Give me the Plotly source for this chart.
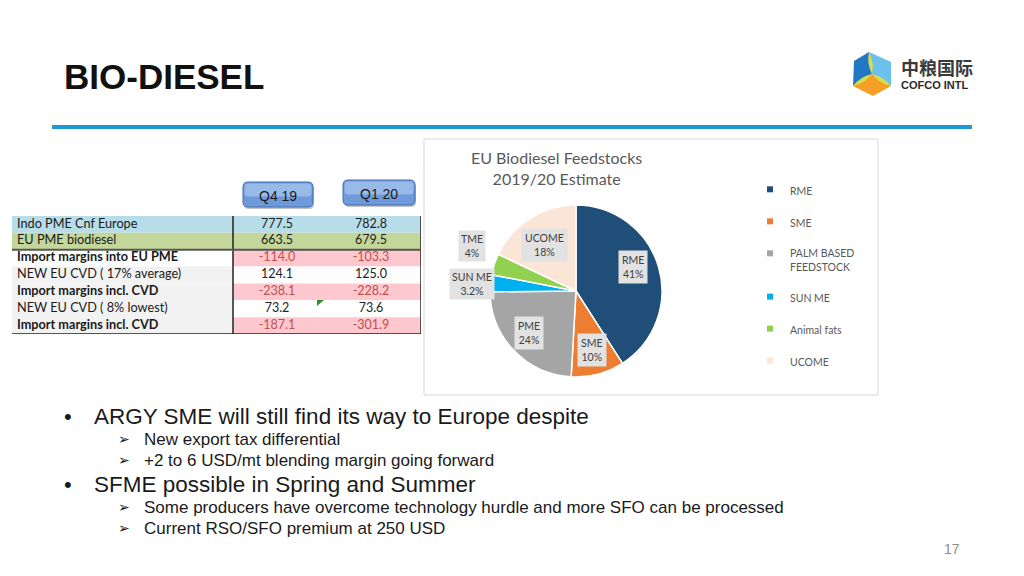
import math
import plotly.graph_objects as go

# the page body has an 8px margin, so the figure is drawn 8px in from the window corner
OFF = 8
W, H = 1024 - 2 * OFF, 576 - 2 * OFF

# ---- data ----
row_labels = ["Indo PME Cnf Europe", "EU PME biodiesel", "Import margins into EU PME",
              "NEW EU CVD ( 17% average)", "Import margins incl. CVD",
              "NEW EU CVD ( 8% lowest)", "Import margins incl. CVD"]
q4_19 = [777.5, 663.5, -114.0, 124.1, -238.1, 73.2, -187.1]
q1_20 = [782.8, 679.5, -103.3, 125.0, -228.2, 73.6, -301.9]
col_heads = ["Q4 19", "Q1 20"]
bold_rows = [2, 4, 6]

feed_names = ["RME", "SME", "PALM BASED<br>FEEDSTOCK", "SUN ME", "Animal fats", "UCOME"]
feed_short = ["RME", "SME", "PME", "SUN ME", "TME", "UCOME"]
feed_share = [41, 10, 24, 3.2, 4, 18]
feed_text = ["41%", "10%", "24%", "3.2%", "4%", "18%"]
feed_colors = ["#1F4E79", "#ED7D31", "#A5A5A5", "#00B0F0", "#92D050", "#FBE5D6"]

bullets = [
    (0, "ARGY SME will still find its way to Europe despite"),
    (1, "New export tax differential"),
    (1, "+2 to 6 USD/mt blending margin going forward"),
    (0, "SFME possible in Spring and Summer"),
    (1, "Some producers have overcome technology hurdle and more SFO can be processed"),
    (1, "Current RSO/SFO premium at 250 USD"),
]

# label placement (radius factor, angle nudge in degrees) per slice
label_pos = [(0.72, -6), (0.71, 0), (0.73, 2), (1.21, -1.5), (1.32, 5), (0.65, -2)]


def px(x):
    return (x - OFF) / W


def py(y):
    return 1 - (y - OFF) / H


def rrect(x0, y0, x1, y1, r=5):
    rx, ry = r / W, r / H
    a, b, c, d = px(x0), py(y0), px(x1), py(y1)
    return (f"M{a+rx},{b} L{c-rx},{b} Q{c},{b} {c},{b-ry} L{c},{d+ry} Q{c},{d} {c-rx},{d} "
            f"L{a+rx},{d} Q{a},{d} {a},{d+ry} L{a},{b-ry} Q{a},{b} {a+rx},{b} Z")


def poly(pts):
    return "M" + " L".join(f"{px(x)},{py(y)}" for x, y in pts) + " Z"


def note(x, y, text, size, color="#1a1a1a", family="Liberation Sans, Arial", xa="center", **kw):
    return dict(x=px(x), y=py(y), xref="paper", yref="paper", xanchor=xa, yanchor="middle",
                showarrow=False, text=text, font=dict(family=family, size=size, color=color), **kw)


fig = go.Figure()
tfont = "Lato, Open Sans, sans-serif"

# ---- table (cells drawn as bars on a hidden axis) ----
rows = list(range(len(row_labels)))
pink, red = "#FFC7CE", "#C0504D"
head_fill = ["#B7DDE8", "#C4D79B"]
lab_fill = head_fill + ["#FFFFFF", "#F2F2F2", "#F2F2F2", "#F2F2F2", "#F2F2F2"]
val_fill = head_fill + [pink if i in bold_rows else "#FFFFFF" for i in rows[2:]]
val_col = ["#222222" if i not in bold_rows else red for i in rows]
col_left = [0, 221, 309]
col_w = [221, 88, 100]
for left, w, fills in zip(col_left, col_w, [lab_fill, val_fill, val_fill]):
    fig.add_trace(go.Bar(y=rows, x=[w] * len(rows), base=left, orientation="h", width=1,
                         marker=dict(color=fills, line=dict(width=0)),
                         xaxis="x2", yaxis="y2", showlegend=False, hoverinfo="skip"))
lab = [f"<b>{t}</b>" if i in bold_rows else t for i, t in enumerate(row_labels)]
fig.add_trace(go.Scatter(y=rows, x=[5] * len(rows), mode="text", text=lab, textposition="middle right",
                         textfont=dict(family=tfont, size=12.7, color="#1a1a1a"),
                         xaxis="x2", yaxis="y2", showlegend=False, hoverinfo="skip"))
for left, w, vals in zip(col_left[1:], col_w[1:], [q4_19, q1_20]):
    fig.add_trace(go.Scatter(y=rows, x=[left + w / 2] * len(rows), mode="text",
                             text=[f"{v:.1f}" for v in vals], textposition="middle center",
                             textfont=dict(family=tfont, size=12.5, color=val_col),
                             xaxis="x2", yaxis="y2", showlegend=False, hoverinfo="skip"))

# ---- pie ----
cx, cy, R = 576, 291, 86
fig.add_trace(go.Pie(
    labels=feed_short, values=feed_share, sort=False, direction="clockwise",
    marker=dict(colors=feed_colors, line=dict(color="white", width=1.5)),
    textinfo="none", hoverinfo="label+percent", showlegend=False,
    domain=dict(x=[px(cx - R), px(cx + R)], y=[py(cy + R), py(cy - R)]),
))

# legend via dummy traces
for name, col in zip(feed_names, feed_colors):
    fig.add_trace(go.Scatter(x=[None], y=[None], mode="markers", name=name, legendgroup=name,
                             marker=dict(symbol="square", size=6, color=col)))

annotations = []
shapes = []

# pie labels from cumulative angles
tot = sum(feed_share)
acc = 0
for s, t, txt, (f, nudge) in zip(feed_share, feed_short, feed_text, label_pos):
    mid = ((acc + s / 2) / tot * 360 + nudge) * math.pi / 180
    acc += s
    lx = cx + f * R * math.sin(mid)
    ly = cy - f * R * math.cos(mid)
    outside = f > 1
    annotations.append(note(lx, ly, f"{t}<br>{txt}", 10.5, "#404040", tfont,
                            bgcolor="#E2E2E2", borderpad=2 if outside else 3))

# chart panel
shapes.append(dict(type="rect", xref="paper", yref="paper", x0=px(424), x1=px(878),
                   y0=py(395), y1=py(139), line=dict(color="#D9D9D9", width=1), layer="below"))
annotations.append(note(556, 168, "EU Biodiesel Feedstocks<br>2019/20 Estimate", 16, "#595959", tfont))

# table lines
for (x0, y0, x1, y1, w, c) in [(221, -0.5, 221, 6.5, 1.5, "#222"), (409, -0.5, 409, 6.5, 1.5, "#222"),
                                (0, 1.5, 409, 1.5, 2, "#555"), (0, 6.5, 409, 6.5, 1.5, "#222")]:
    shapes.append(dict(type="line", xref="x2", yref="y2", x0=x0, x1=x1, y0=y0, y1=y1,
                       line=dict(color=c, width=w)))
# small comment marker in the table
shapes.append(dict(type="path", xref="paper", yref="paper",
                   path=poly([(317, 300), (324, 300), (317, 306)]), fillcolor="#2E8B2E", line=dict(width=0)))

# column head buttons
for (x0, y0, x1, y1), t in zip([(243, 182, 313, 207), (343, 180, 415, 205)], col_heads):
    shapes.append(dict(type="path", xref="paper", yref="paper", path=rrect(x0 + 1, y0 + 2, x1 + 1, y1 + 2),
                       fillcolor="#9A9A9A", line=dict(width=0), opacity=0.6))
    shapes.append(dict(type="path", xref="paper", yref="paper", path=rrect(x0, y0, x1, y1),
                       fillcolor="#6F9ADA", line=dict(color="#3F6DAE", width=1)))
    shapes.append(dict(type="path", xref="paper", yref="paper",
                       path=rrect(x0 + 1.5, y0 + 1.5, x1 - 1.5, (y0 + y1) / 2 + 2, 4),
                       fillcolor="#A9C8EF", line=dict(width=0), opacity=0.7))
    annotations.append(note((x0 + x1) / 2, (y0 + y1) / 2 + 1, t, 14))

# title + rule
annotations.append(note(62, 76, "<b>BIO-DIESEL</b>", 35, "#111111", xa="left"))
shapes.append(dict(type="line", xref="paper", yref="paper", x0=px(52), x1=px(972), y0=py(127), y1=py(127),
                   line=dict(color="#1E9BD7", width=4)))

# logo
c0 = (872, 74)
V = [(869, 52), (891, 62), (891, 86), (873, 96), (853, 86), (854, 61)]
shapes.append(dict(type="path", xref="paper", yref="paper", path=poly([c0, V[4], V[5], V[0]]),
                   fillcolor="#2277C2", line=dict(width=0)))
shapes.append(dict(type="path", xref="paper", yref="paper", path=poly([c0, V[0], V[1], V[2]]),
                   fillcolor="#6CC0EC", line=dict(width=0)))
shapes.append(dict(type="path", xref="paper", yref="paper", path=poly([c0, V[2], V[3], V[4]]),
                   fillcolor="#F5A024", line=dict(width=0)))
for v in (V[0], V[2], V[4]):
    dx, dy = v[0] - c0[0], v[1] - c0[1]
    nx, ny = -dy * 0.18, dx * 0.18
    mx, my = (c0[0] + v[0]) / 2, (c0[1] + v[1]) / 2
    path = (f"M{px(c0[0])},{py(c0[1])} Q{px(mx + nx)},{py(my + ny)} {px(v[0])},{py(v[1])} "
            f"Q{px(mx - nx)},{py(my - ny)} {px(c0[0])},{py(c0[1])} Z")
    shapes.append(dict(type="path", xref="paper", yref="paper", path=path,
                       fillcolor="#D6DE4A", line=dict(width=0)))
annotations.append(note(899, 67, "<b>中粮国际</b>", 18, "#3a3a3a", "Noto Sans CJK SC", xa="left"))
annotations.append(note(899, 85, "<b>COFCO INTL</b>", 11, "#2a2a2a", xa="left"))

# bullets
ys = [416, 439, 460, 484, 507, 528]
for (lvl, txt), yy in zip(bullets, ys):
    if lvl == 0:
        annotations.append(note(62, yy, "•", 22, xa="left"))
        annotations.append(note(92, yy, txt, 22.5, xa="left"))
    else:
        annotations.append(note(116, yy, "➢", 14, family="DejaVu Sans", xa="left"))
        annotations.append(note(142, yy, txt, 17, xa="left"))

annotations.append(note(952, 549, "17", 14, "#8c8c8c"))

fig.update_layout(
    width=W, height=H, margin=dict(l=0, r=0, t=0, b=0),
    paper_bgcolor="white", plot_bgcolor="rgba(0,0,0,0)",
    xaxis=dict(visible=False), yaxis=dict(visible=False),
    xaxis2=dict(visible=False, domain=[px(12), px(421)], range=[0, 409], anchor="y2", fixedrange=True),
    yaxis2=dict(visible=False, domain=[py(334), py(216)], range=[6.5, -0.5], anchor="x2", fixedrange=True),
    barmode="overlay",
    showlegend=True,
    legend=dict(x=px(750), y=py(176), xanchor="left", yanchor="top", tracegroupgap=13,
                valign="top", bgcolor="rgba(0,0,0,0)",
                font=dict(family=tfont, size=10.5, color="#595959")),
    shapes=shapes, annotations=annotations,
)

fig.write_html("out.html")
